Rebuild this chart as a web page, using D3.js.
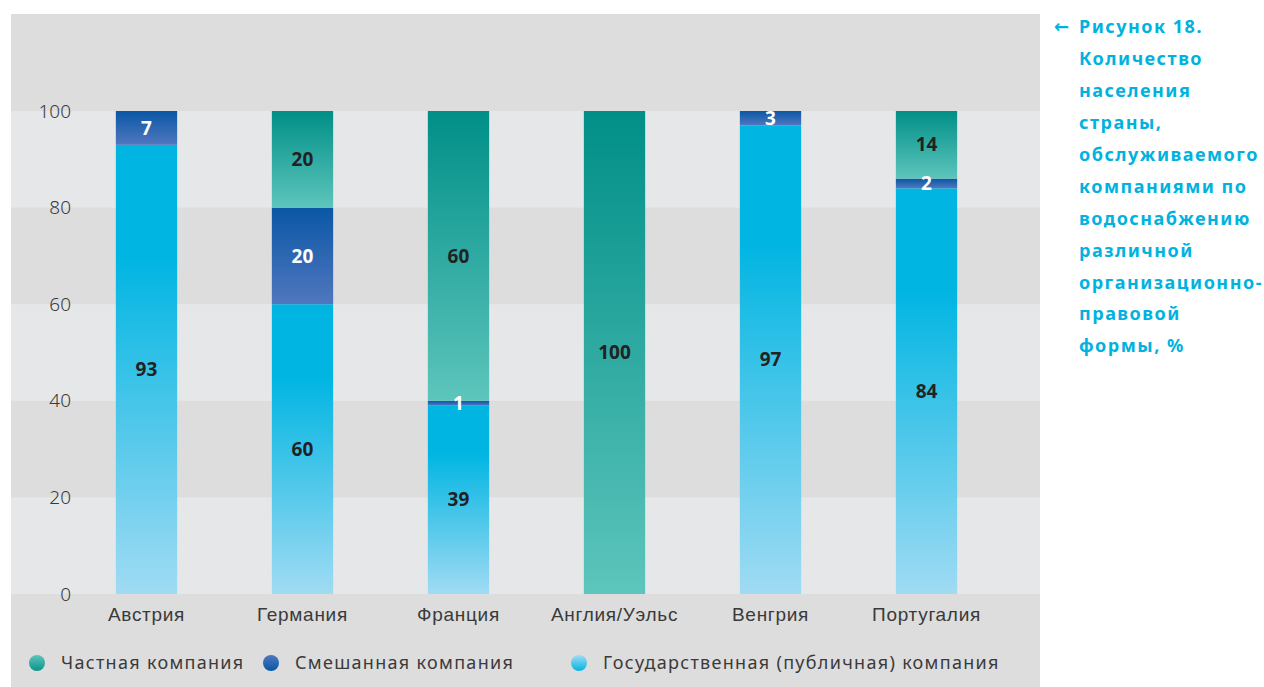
<!DOCTYPE html>
<html>
<head>
<meta charset="utf-8">
<script src="https://cdn.jsdelivr.net/npm/d3@7"></script>
<style>
  html, body { margin: 0; padding: 0; background: #ffffff; }
  svg { display: block; font-family: "Noto Sans", "DejaVu Sans", sans-serif; }
</style>
</head>
<body>
<div id="chart"></div>
<script>
// данные
const countries = ["Австрия", "Германия", "Франция", "Англия/Уэльс", "Венгрия", "Португалия"];
const publicVals = [93, 60, 39, 0, 97, 84];
const mixedVals = [7, 20, 1, 0, 3, 2];
const privateVals = [0, 20, 60, 100, 0, 14];
const seriesKeys = ["public", "mixed", "private"];
const legendNames = ["Частная компания", "Смешанная компания", "Государственная (публичная) компания"];
const legendKeys = ["private", "mixed", "public"];
const yTicks = [0, 20, 40, 60, 80, 100];
const titleLines = ["Рисунок 18.", "Количество", "населения", "страны,", "обслуживаемого",
  "компаниями по", "водоснабжению", "различной", "организационно-", "правовой", "формы, %"];

const width = 1264
const height = 687

const rows = countries.map((c, i) => ({
  country: c, public: publicVals[i], mixed: mixedVals[i], private: privateVals[i]
}))

const svg = d3.select("#chart")
  .append("svg")
  .attr("width", width)
  .attr("height", height)

// градиенты
const defs = svg.append("defs")
function grad(id, stops) {
  const g = defs.append("linearGradient").attr("id", id)
    .attr("x1", 0).attr("y1", 0).attr("x2", 0).attr("y2", 1)
  stops.forEach(s => g.append("stop").attr("offset", s[0]).attr("stop-color", s[1]))
}
grad("g-public", [[0, "#00b5e2"], [0.25, "#00b5e2"], [1, "#a0dbf3"]])
grad("g-mixed", [[0, "#0a57a6"], [1, "#5077be"]])
grad("g-private", [[0, "#008f87"], [1, "#5dc5bc"]])
grad("l-public", [[0, "#a0dbf3"], [1, "#00b5e2"]])
grad("l-mixed", [[0, "#5077be"], [1, "#0a57a6"]])
grad("l-private", [[0, "#5dc5bc"], [1, "#0a948b"]])

const panel = { left: 11, top: 14, right: 1040, bottom: height }

const y = d3.scaleLinear().domain([0, 100]).range([594, 111])
const x = d3.scaleBand().domain(countries)
  .range([11, 1062]).paddingInner(0.607).paddingOuter(0.672)

// фон
svg.append("rect")
  .attr("x", panel.left).attr("y", panel.top)
  .attr("width", panel.right - panel.left).attr("height", panel.bottom - panel.top)
  .attr("fill", "#dddddd")

const bandPairs = d3.pairs(yTicks).filter((p, i) => i % 2 === 0)
svg.append("g").selectAll("rect")
  .data(bandPairs)
  .enter().append("rect")
  .attr("x", panel.left)
  .attr("width", panel.right - panel.left)
  .attr("y", d => y(d[1]))
  .attr("height", d => y(d[0]) - y(d[1]))
  .attr("fill", "#e6e7e9")

// ось Y
const yAxis = svg.append("g")
  .attr("transform", "translate(71,0)")
  .call(d3.axisLeft(y).tickValues(yTicks).tickSize(0).tickPadding(0))
yAxis.select(".domain").remove()
yAxis.selectAll("text")
  .attr("font-size", 19).attr("fill", "#3a3a3a")
  .attr("font-family", "Noto Sans").attr("font-weight", 300)
  .attr("dy", "0.32em")

// столбцы
const stacked = d3.stack().keys(seriesKeys)(rows)

const layers = svg.append("g").selectAll("g")
  .data(stacked)
  .enter().append("g")
  .attr("fill", d => `url(#g-${d.key})`)

layers.selectAll("rect")
  .data(d => d.filter(s => s[1] - s[0] > 0))
  .enter().append("rect")
  .attr("x", d => x(d.data.country))
  .attr("width", x.bandwidth())
  .attr("y", d => y(d[1]))
  .attr("height", d => y(d[0]) - y(d[1]))

// подписи значений
const labels = svg.append("g")
stacked.forEach(layer => {
  layer.filter(s => s[1] - s[0] > 0).forEach(s => {
    labels.append("text")
      .attr("x", x(s.data.country) + x.bandwidth() / 2)
      .attr("y", y((s[0] + s[1]) / 2))
      .attr("dy", "0.35em")
      .attr("text-anchor", "middle")
      .attr("font-size", 19)
      .attr("font-weight", 700)
      .attr("fill", layer.key === "mixed" ? "#ffffff" : "#222222")
      .text(s[1] - s[0])
  })
})

// ось X
const xAxis = svg.append("g")
  .attr("transform", "translate(0,614)")
  .call(d3.axisBottom(x).tickSize(0).tickPadding(0))
xAxis.select(".domain").remove()
xAxis.selectAll("text")
  .attr("font-size", 19).attr("fill", "#3a3a3a")
  .attr("letter-spacing", 0.7)
  .attr("dy", "0.35em")

// легенда
const legendX = [37, 271, 579]
const legend = svg.append("g").selectAll("g")
  .data(legendKeys)
  .enter().append("g")
  .attr("transform", (d, i) => `translate(${legendX[i]},663)`)
legend.append("circle").attr("r", 8).attr("fill", d => `url(#l-${d})`)
legend.append("text")
  .attr("x", 24).attr("dy", "0.35em")
  .attr("font-size", 18).attr("fill", "#3a3a3a")
  .attr("letter-spacing", 1.3)
  .text((d, i) => legendNames[i])

// заголовок
const title = svg.append("g").attr("fill", "#00b2e0")
  .attr("font-size", 18).attr("font-weight", 700)
title.append("text").attr("x", 1054).attr("y", 27).attr("dy", "0.35em").text("←")
title.selectAll("text.line")
  .data(titleLines)
  .enter().append("text")
  .attr("class", "line")
  .attr("x", 1079)
  .attr("y", (d, i) => 27 + i * 31.9)
  .attr("dy", "0.35em")
  .attr("letter-spacing", 1.5)
  .text(d => d)
</script>
</body>
</html>
